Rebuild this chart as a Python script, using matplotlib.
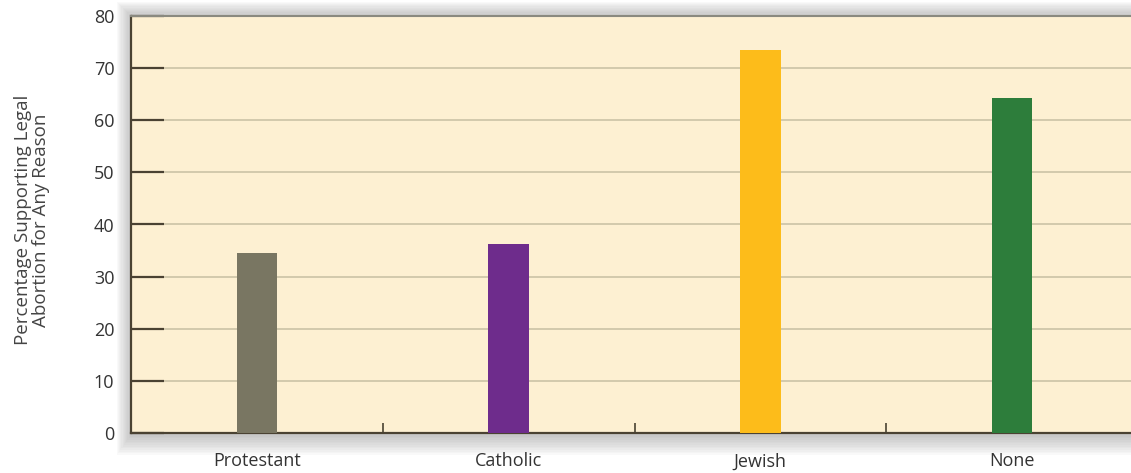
import numpy as np
import matplotlib.pyplot as plt
from matplotlib.patches import Rectangle
from matplotlib.ticker import FixedLocator

# Chart data
religions = ["Protestant", "Catholic", "Jewish", "None"]
support_pct = [34.5, 36.2, 73.5, 64.2]
bar_colors = ["#797662", "#6E2C8C", "#FDBC1A", "#2D7D3B"]
y_ticks = [0, 10, 20, 30, 40, 50, 60, 70, 80]

plt.rcParams['font.family'] = ['Open Sans', 'DejaVu Sans']

W, H = 1131, 473
fig = plt.figure(figsize=(W / 100, H / 100), dpi=100)
fig.patch.set_facecolor("white")

left, bottom, top = 131, 40, 16
ax_w = 1007
ax_h = H - bottom - top
ax = fig.add_axes([left / W, bottom / H, ax_w / W, ax_h / H])

# soft drop shadow round the plot area, fading outwards
n = 12
for i in range(n):
    pad = (n - i) * 1.2
    fig.patches.append(Rectangle(((left - pad) / W, (bottom - pad * 1.4 - 2) / H),
                                 (ax_w + 2 * pad) / W, (ax_h + 2.4 * pad + 2) / H,
                                 transform=fig.transFigure, facecolor="#707070",
                                 edgecolor="none", alpha=0.035, zorder=0))

ax.set_facecolor("#FDF0D2")
ax.set_zorder(1)

x = np.arange(len(religions))
ax.bar(x, support_pct, width=0.16, color=bar_colors, zorder=3)

ax.set_xlim(-0.5, len(religions) - 0.5)
ax.set_ylim(0, 80)
ax.set_yticks(y_ticks)
ax.set_yticklabels([str(v) for v in y_ticks], fontsize=13, color="#333333")
ax.yaxis.grid(True, color="#CBC3A6", linewidth=1.2, zorder=1)
ax.set_axisbelow(True)
ax.tick_params(axis="y", direction="in", length=24, width=1.6, color="#4A4232", pad=12, left=True)

ax.set_xticks(x)
ax.set_xticklabels(religions, fontsize=13, color="#333333")
ax.tick_params(axis="x", which="major", length=0, pad=14)
ax.xaxis.set_minor_locator(FixedLocator(x[:-1] + 0.5))
ax.tick_params(axis="x", which="minor", direction="in", length=7, width=1.2, color="#4A4232")

for side in ["left", "bottom"]:
    ax.spines[side].set_color("#4A4232")
    ax.spines[side].set_linewidth(1.6)
ax.spines["top"].set_color("#8A8A80")
ax.spines["top"].set_linewidth(1.5)
ax.spines["right"].set_visible(False)

fig.text(32 / W, 0.535, "Percentage Supporting Legal\nAbortion for Any Reason",
         rotation=90, ha="center", va="center", fontsize=13.5, color="#444444",
         linespacing=1.05)

fig.savefig("out.png", dpi=100)
